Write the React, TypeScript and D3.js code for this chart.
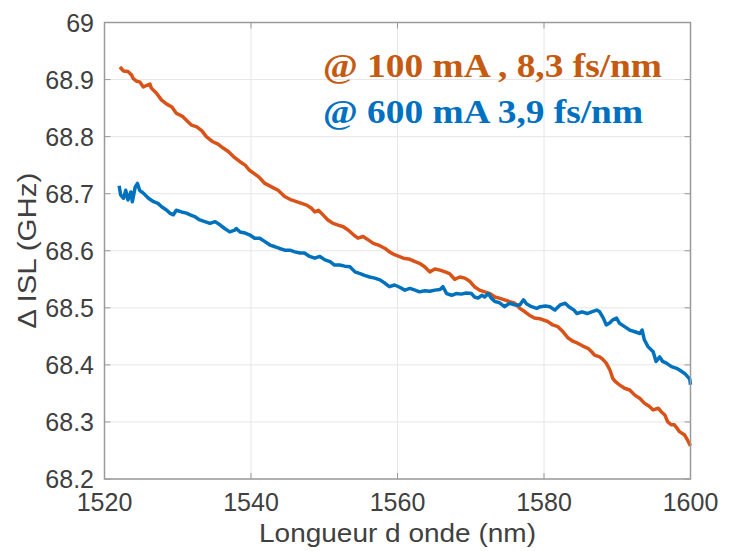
import React from "react";
import * as d3 from "d3";

const xTicks = [1520, 1540, 1560, 1580, 1600];
const yTicks = [68.2, 68.3, 68.4, 68.5, 68.6, 68.7, 68.8, 68.9, 69];

const orangeX = [1522.1,1522.6,1523.2,1523.7,1523.9,1524.4,1524.8,1525.3,1525.8,1526.2,1526.4,1527.1,1527.8,1528.5,1529.2,1529.8,1530.7,1531.4,1531.9,1532.6,1533.3,1533.9,1534.8,1535.5,1536.2,1536.9,1537.6,1538.5,1539.2,1539.8,1541.0,1541.9,1542.8,1543.7,1544.6,1545.5,1546.2,1546.9,1547.6,1548.3,1548.7,1549.2,1549.9,1550.5,1551.2,1551.9,1552.6,1553.3,1554.0,1554.6,1555.3,1556.0,1556.7,1557.4,1558.3,1558.9,1559.6,1560.8,1561.7,1562.4,1563.0,1563.7,1564.4,1565.1,1565.8,1566.5,1567.1,1567.8,1568.5,1569.2,1569.9,1570.5,1571.2,1571.9,1572.6,1573.3,1573.9,1574.6,1575.3,1576.0,1576.7,1577.4,1578.0,1578.7,1579.4,1580.5,1581.2,1581.9,1582.6,1583.3,1584.0,1584.6,1585.3,1586.0,1586.5,1586.9,1587.6,1588.0,1588.5,1589.0,1589.4,1589.8,1590.3,1591.0,1591.7,1592.4,1593.1,1593.7,1594.4,1594.9,1595.6,1596.0,1596.5,1596.9,1597.4,1597.8,1598.5,1599.2,1599.6,1600.0];
const orangeY = [68.922,68.915,68.914,68.908,68.902,68.897,68.896,68.887,68.890,68.892,68.885,68.876,68.864,68.857,68.852,68.841,68.835,68.826,68.820,68.817,68.810,68.800,68.791,68.787,68.780,68.774,68.765,68.756,68.750,68.741,68.730,68.718,68.712,68.706,68.695,68.689,68.686,68.683,68.680,68.674,68.668,68.671,68.662,68.654,68.648,68.645,68.642,68.636,68.628,68.622,68.625,68.619,68.613,68.610,68.604,68.598,68.593,68.587,68.585,68.581,68.578,68.572,68.563,68.568,68.566,68.563,68.560,68.550,68.554,68.552,68.546,68.537,68.531,68.528,68.525,68.519,68.517,68.514,68.511,68.508,68.499,68.493,68.487,68.482,68.481,68.476,68.470,68.467,68.458,68.447,68.441,68.438,68.433,68.429,68.423,68.417,68.414,68.410,68.403,68.391,68.376,68.370,68.365,68.359,68.356,68.347,68.341,68.333,68.327,68.321,68.324,68.318,68.312,68.300,68.295,68.295,68.283,68.277,68.268,68.258];

const blueX = [1522.0,1522.2,1522.6,1522.9,1523.2,1523.6,1523.8,1524.2,1524.5,1524.8,1525.3,1526.0,1526.7,1527.3,1527.8,1528.5,1528.9,1529.4,1529.8,1530.5,1531.2,1531.7,1532.3,1533.0,1533.7,1534.4,1535.1,1535.8,1536.4,1537.1,1537.8,1538.0,1538.5,1539.2,1539.8,1540.5,1541.2,1541.9,1542.6,1543.3,1543.9,1544.6,1545.3,1546.0,1546.7,1547.3,1548.0,1548.7,1549.4,1550.1,1550.8,1551.4,1552.1,1552.8,1553.5,1554.2,1554.9,1555.5,1556.2,1556.9,1557.6,1558.3,1558.9,1559.6,1560.3,1561.0,1561.7,1562.4,1563.0,1563.7,1564.4,1565.1,1565.8,1566.2,1566.7,1567.4,1568.0,1568.7,1569.4,1570.1,1570.5,1571.0,1571.5,1571.9,1572.4,1572.8,1573.3,1573.9,1574.6,1575.3,1576.0,1576.7,1577.2,1577.6,1578.3,1579.0,1579.5,1580.2,1580.8,1581.5,1582.2,1582.9,1583.4,1584.1,1584.5,1585.2,1585.9,1586.5,1587.2,1587.6,1588.1,1588.5,1589.0,1589.4,1589.9,1590.3,1591.0,1591.7,1592.4,1593.1,1593.4,1593.7,1594.2,1594.9,1595.3,1595.8,1596.2,1596.7,1597.4,1598.1,1598.5,1599.2,1599.9,1600.0];
const blueY = [68.714,68.698,68.692,68.706,68.689,68.703,68.686,68.712,68.718,68.706,68.701,68.692,68.686,68.683,68.677,68.671,68.666,68.663,68.671,68.668,68.666,68.663,68.660,68.654,68.651,68.648,68.651,68.645,68.639,68.633,68.636,68.639,68.633,68.631,68.628,68.622,68.622,68.616,68.610,68.607,68.604,68.601,68.601,68.598,68.596,68.596,68.590,68.587,68.590,68.584,68.581,68.575,68.575,68.573,68.572,68.563,68.560,68.557,68.554,68.552,68.549,68.543,68.537,68.540,68.536,68.531,68.534,68.531,68.528,68.530,68.529,68.531,68.532,68.537,68.525,68.522,68.525,68.524,68.526,68.525,68.519,68.517,68.522,68.519,68.525,68.517,68.511,68.509,68.502,68.508,68.505,68.505,68.514,68.507,68.502,68.499,68.502,68.503,68.502,68.496,68.505,68.508,68.502,68.496,68.490,68.493,68.490,68.493,68.496,68.493,68.482,68.470,68.474,68.479,68.482,68.473,68.467,68.461,68.458,68.455,68.461,68.444,68.432,68.423,68.406,68.414,68.406,68.403,68.397,68.394,68.391,68.385,68.375,68.365];

const legendLines = ["@ 100 mA , 8,3 fs/nm", "@ 600 mA 3,9 fs/nm"];
const xLabel = "Longueur d onde (nm)";
const yLabel = "Δ ISL (GHz)";

export default function App() {
  const W = 729, H = 551;
  const left = 104.5, right = 690.5, top = 22.5, bottom = 479;
  const x = d3.scaleLinear().domain([1520, 1600]).range([left, right]);
  const y = d3.scaleLinear().domain([68.2, 69]).range([bottom, top]);
  const mk = (xs: number[], ys: number[]) =>
    d3.line<number>().x((_, i) => x(xs[i])).y((_, i) => y(ys[i]))(xs) || "";
  const orangePath = mk(orangeX, orangeY);
  const bluePath = mk(blueX, blueY);
  const axisColor = "#9a9a9a";
  const gridColor = "#e6e6e6";
  const textColor = "#404040";
  const tl = 6;
  const serif = "'Liberation Serif', 'Times New Roman', serif";
  return (
    <svg width={W} height={H} style={{ position: "fixed", left: 0, top: 0, background: "#fff" }}
      fontFamily="'Liberation Sans', Arial, sans-serif">
      <rect x={0} y={0} width={W} height={H} fill="#fff" />
      {xTicks.map((t) => (
        <line key={"gx" + t} x1={x(t)} x2={x(t)} y1={top} y2={bottom} stroke={gridColor} strokeWidth={1} />
      ))}
      {yTicks.map((t) => (
        <line key={"gy" + t} x1={left} x2={right} y1={y(t)} y2={y(t)} stroke={gridColor} strokeWidth={1} />
      ))}
      <path d={orangePath} fill="none" stroke="#D95319" strokeWidth={3.5} strokeLinejoin="round" />
      <path d={bluePath} fill="none" stroke="#0072BD" strokeWidth={3.5} strokeLinejoin="round" />
      <rect x={left} y={top} width={right - left} height={bottom - top} fill="none" stroke={axisColor} strokeWidth={1.5} />
      {xTicks.map((t) => (
        <g key={"tx" + t}>
          <line x1={x(t)} x2={x(t)} y1={bottom} y2={bottom - tl} stroke={axisColor} />
          <line x1={x(t)} x2={x(t)} y1={top} y2={top + tl} stroke={axisColor} />
          <text x={x(t)} y={511} textAnchor="middle" fontSize={25} fill={textColor}>{t}</text>
        </g>
      ))}
      {yTicks.map((t) => (
        <g key={"ty" + t}>
          <line x1={left} x2={left + tl} y1={y(t)} y2={y(t)} stroke={axisColor} />
          <line x1={right} x2={right - tl} y1={y(t)} y2={y(t)} stroke={axisColor} />
          <text x={94} y={y(t)} dy="0.36em" textAnchor="end" fontSize={25} fill={textColor}>{d3.format("")(t)}</text>
        </g>
      ))}
      <text x={(left + right) / 2} y={542} textAnchor="middle" fontSize={26} textLength={277} lengthAdjust="spacingAndGlyphs" fill={textColor}>{xLabel}</text>
      <text transform={`translate(36,${(top + bottom) / 2}) rotate(-90)`} textAnchor="middle" fontSize={26} textLength={156} lengthAdjust="spacingAndGlyphs" fill={textColor}>{yLabel}</text>
      <text x={323} y={77} fontFamily={serif} fontWeight="bold" fontSize={34} textLength={339} lengthAdjust="spacingAndGlyphs" fill="#C55A11">{legendLines[0]}</text>
      <text x={323} y={123} fontFamily={serif} fontWeight="bold" fontSize={34} textLength={320} lengthAdjust="spacingAndGlyphs" fill="#0070C0">{legendLines[1]}</text>
    </svg>
  );
}
